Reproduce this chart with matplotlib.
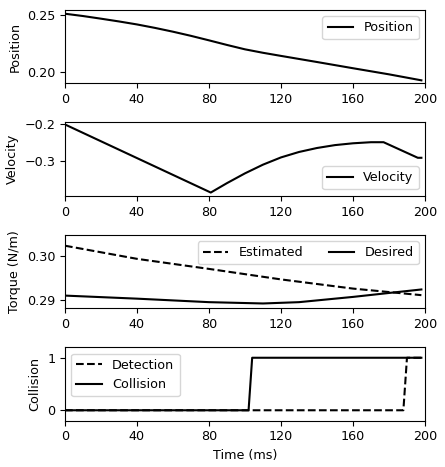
import matplotlib
matplotlib.use("Agg")
import matplotlib.pyplot as plt

plt.rcParams["font.size"] = 9.2

# Position
t_pos = [0, 10, 20, 30, 40, 50, 60, 70, 80, 90, 100, 110, 120, 140, 160, 180, 198]
position = [0.2509, 0.2489, 0.2466, 0.2442, 0.2416, 0.2386, 0.2353, 0.2317, 0.2278,
            0.2238, 0.2200, 0.2170, 0.2143, 0.2090, 0.2036, 0.1983, 0.1931]

# Velocity
t_vel = [0, 81, 90, 100, 110, 120, 130, 140, 150, 160, 170, 177, 196, 198]
velocity = [-0.200, -0.388, -0.362, -0.335, -0.311, -0.291, -0.276, -0.265,
            -0.257, -0.252, -0.249, -0.249, -0.292, -0.292]

# Torque
t_est = [0, 40, 80, 120, 160, 198]
torque_est = [0.3023, 0.2993, 0.2970, 0.2946, 0.2925, 0.2910]
t_des = [0, 40, 80, 110, 130, 160, 180, 198]
torque_des = [0.2909, 0.2902, 0.2894, 0.2891, 0.2894, 0.2906, 0.2915, 0.2923]

# Collision
t_det = [0, 188, 190, 198]
detection = [0, 0, 1, 1]
t_col = [0, 102, 104, 198]
collision = [0, 0, 1, 1]

xticks = [0, 40, 80, 120, 160, 200]

fig, axs = plt.subplots(4, 1, figsize=(4.45, 4.67), dpi=100)
fig.subplots_adjust(left=0.146, right=0.955, top=0.979, bottom=0.099, hspace=0.53)

ax = axs[0]
ax.plot(t_pos, position, color="black", lw=1.5, label="Position")
ax.set_ylim(0.1905, 0.2543)
ax.set_yticks([0.20, 0.25])
ax.set_ylabel("Position")
ax.legend(loc="upper right")

ax = axs[1]
ax.plot(t_vel, velocity, color="black", lw=1.5, label="Velocity")
ax.set_ylim(-0.397, -0.194)
ax.set_yticks([-0.3, -0.2])
ax.set_ylabel("Velocity")
ax.legend(loc="lower right")

ax = axs[2]
ax.plot(t_est, torque_est, color="black", ls="--", lw=1.5, label="Estimated")
ax.plot(t_des, torque_des, color="black", lw=1.5, label="Desired")
ax.set_ylim(0.2880, 0.3048)
ax.set_yticks([0.29, 0.30])
ax.set_ylabel("Torque (N/m)")
ax.legend(loc="upper right", ncol=2)

ax = axs[3]
ax.plot(t_det, detection, color="black", ls="--", lw=1.5, label="Detection")
ax.plot(t_col, collision, color="black", lw=1.5, label="Collision")
ax.set_ylim(-0.2, 1.2)
ax.set_yticks([0, 1])
ax.set_ylabel("Collision")
ax.set_xlabel("Time (ms)")
ax.legend(loc="upper left")

for ax in axs:
    ax.set_xlim(0, 200)
    ax.set_xticks(xticks)

fig.savefig("out.png", dpi=100)
